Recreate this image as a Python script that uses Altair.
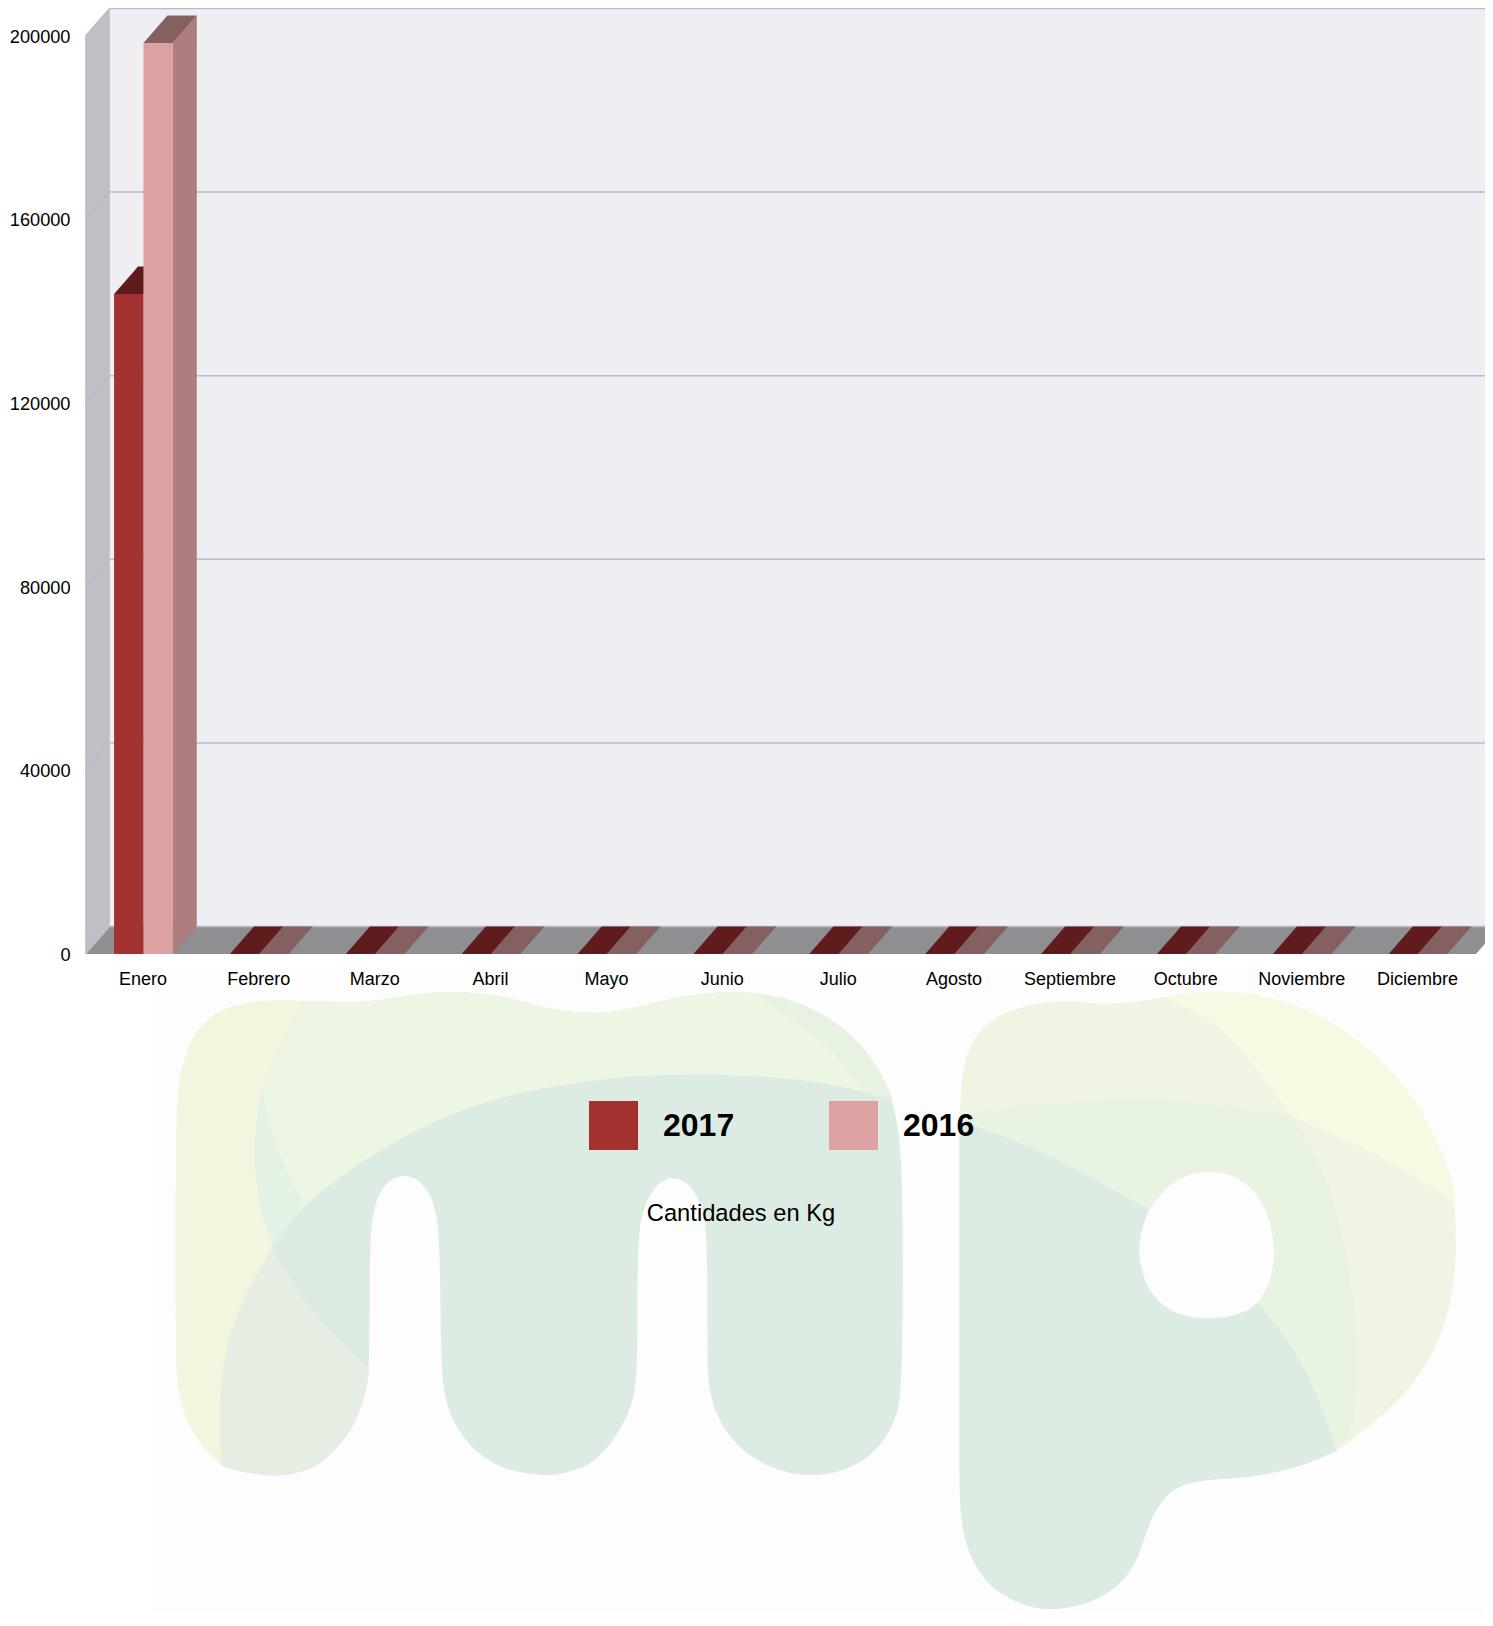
import json
import altair as alt
import pandas as pd

# ---- chart values ----
MESES = ["Enero", "Febrero", "Marzo", "Abril", "Mayo", "Junio", "Julio", "Agosto",
         "Septiembre", "Octubre", "Noviembre", "Diciembre"]
V2017 = [143800, 0, 0, 0, 0, 0, 0, 0, 0, 0, 0, 0]
V2016 = [198500, 0, 0, 0, 0, 0, 0, 0, 0, 0, 0, 0]
TICKS = [0, 40000, 80000, 120000, 160000, 200000]

# ---- page geometry -> data units ----
LEFT, ZERO, TOP, RIGHT = 85.5, 954.0, 9.0, 1485.0
BAND = 115.875
PX_PER_KG = 918.0 / 200000
XMAX = (RIGHT - LEFT) / BAND
YMAX = (ZERO - TOP) / PX_PER_KG
DX = 24.0 / BAND
DY = 27.5 / PX_PER_KG
BAR = 29.35 / BAND
NCAT = 12


def kg(py):
    return (ZERO - py) / PX_PER_KG


def cat(px):
    return (px - LEFT) / BAND


XS = alt.Scale(domain=[0, XMAX], nice=False, zero=False)
YS = alt.Scale(domain=[0, YMAX], nice=False, zero=False)
COL = {"2017": ("#a3312f", "#601c1c", "#6d2423"), "2016": ("#dca2a2", "#846060", "#ae7e7e")}

fronts, tops, sides = [], [], []
for i, m in enumerate(MESES):
    for j, (s, v) in enumerate((("2017", V2017[i]), ("2016", V2016[i]))):
        x0 = i + 0.5 - BAR + j * BAR
        x1 = x0 + BAR
        fronts.append(dict(serie=s, x0=x0, x1=x1, y0=0, y1=v))
        k = f"{s}-{m}"
        tops += [dict(id=k, y=v, x0=x0, x1=x1, fill=COL[s][1]),
                 dict(id=k, y=v + DY, x0=x0 + DX, x1=x1 + DX, fill=COL[s][1])]
        if v > 0:
            sides += [dict(id=k, x=x1, y0=0, y1=v, fill=COL[s][2]),
                      dict(id=k, x=x1 + DX, y0=DY, y1=v + DY, fill=COL[s][2])]


def vface(df, **mk):
    return alt.Chart(pd.DataFrame(df)).mark_area(orient="vertical", **mk).encode(
        x=alt.X("x:Q", scale=XS, axis=None),
        y=alt.Y("y0:Q", scale=YS, axis=None, stack=None),
        y2="y1:Q", detail="id:N", fill=alt.Fill("fill:N", scale=None))


def hface(df, **mk):
    return alt.Chart(pd.DataFrame(df)).mark_area(orient="horizontal", **mk).encode(
        y=alt.Y("y:Q", scale=YS, axis=None),
        x=alt.X("x0:Q", scale=XS, axis=None, stack=None),
        x2="x1:Q", detail="id:N", fill=alt.Fill("fill:N", scale=None))


# ---- room walls ----
top_kg = TICKS[-1]
WALL_LINE = "#b9b9d3"
back = alt.Chart(pd.DataFrame([dict(x0=DX, x1=XMAX, y0=DY, y1=top_kg + DY)])).mark_rect(color="#efeef3").encode(
    x=alt.X("x0:Q", scale=XS, axis=None), x2="x1:Q",
    y=alt.Y("y0:Q", scale=YS, axis=None), y2="y1:Q")
left_wall = vface([dict(id="w", x=0, y0=0, y1=top_kg, fill="#bfbfc4"),
                   dict(id="w", x=DX, y0=DY, y1=top_kg + DY, fill="#bfbfc4")])
floor = hface([dict(id="f", y=0, x0=0, x1=NCAT, fill="#8f8f92"),
               dict(id="f", y=DY, x0=DX, x1=NCAT + DX, fill="#8f8f92")], clip=True)

grid_back = alt.Chart(pd.DataFrame([dict(x0=DX, x1=XMAX, y=t + DY) for t in TICKS])).mark_rule(
    color=WALL_LINE, strokeWidth=1.5).encode(
    x=alt.X("x0:Q", scale=XS, axis=None), x2="x1:Q", y=alt.Y("y:Q", scale=YS, axis=None))
grid_side = alt.Chart(pd.DataFrame(
    [r for t in TICKS for r in (dict(id=t, x=0, y=t), dict(id=t, x=DX, y=t + DY))])).mark_line(
    color=WALL_LINE, strokeWidth=1.2).encode(
    x=alt.X("x:Q", scale=XS, axis=None), y=alt.Y("y:Q", scale=YS, axis=None), detail="id:N")
edges = alt.Chart(pd.DataFrame([dict(x=0, y0=0, y1=top_kg), dict(x=DX, y0=DY, y1=top_kg + DY)])).mark_rule(
    color="#c4c4d6", strokeWidth=1).encode(
    x=alt.X("x:Q", scale=XS, axis=None), y=alt.Y("y0:Q", scale=YS, axis=None), y2="y1:Q")

label_expr = "%s[floor(datum.value)]" % json.dumps(MESES)
bars = alt.Chart(pd.DataFrame(fronts)).mark_rect().encode(
    x=alt.X("x0:Q", scale=XS, axis=alt.Axis(
        values=[i + 0.5 for i in range(NCAT)], labelExpr=label_expr, ticks=False, domain=False, grid=False,
        labelPadding=25.5, labelFontSize=18, labelColor="#000000", labelFont="Liberation Sans",
        labelAngle=0, labelOverlap=False, labelBaseline="middle", labelOffset=-1, zindex=1,
        title="Cantidades en Kg", titleFont="Liberation Sans", titleFontSize=23.7, titleFontWeight="normal",
        titleColor="#000000", titleX=740.5 - LEFT, titleY=1220 - ZERO, titleAlign="center",
        titleBaseline="alphabetic")),
    x2="x1:Q",
    y=alt.Y("y0:Q", scale=YS, axis=alt.Axis(
        values=TICKS, format="d", ticks=False, domain=False, grid=False, title=None, zindex=1,
        labelPadding=15.5, labelFontSize=18.2, labelColor="#000000", labelFont="Liberation Sans",
        labelOverlap=False, labelOffset=1.2)),
    y2="y1:Q",
    color=alt.Color("serie:N",
                    scale=alt.Scale(domain=["2017", "2016"], range=[COL["2017"][0], COL["2016"][0]]),
                    legend=alt.Legend(orient="none", legendX=589 - LEFT, legendY=1101 - TOP,
                                      direction="horizontal", columns=2, title=None, padding=0,
                                      symbolType="square", symbolSize=2401, symbolStrokeWidth=0,
                                      symbolOpacity=1, labelFont="Liberation Sans", labelFontSize=32,
                                      labelFontWeight="bold", labelColor="#000000", labelOffset=25,
                                      columnPadding=94)))

# ---- pale watermark behind the legend (outline) ----
M_OUTER = [(70, 500), (75, 300), (100, 170), (150, 90), (230, 60), (320, 62), (440, 68), (520, 45), (620, 32),
           (720, 50), (800, 85), (880, 100), (950, 90), (1040, 55), (1130, 35), (1220, 38), (1300, 70),
           (1380, 140), (1440, 240), (1475, 350), (1495, 520), (1495, 1200), (1478, 1320), (1435, 1405),
           (1380, 1452), (1315, 1468), (1250, 1452), (1185, 1400), (1140, 1320), (1115, 1220), (1112, 1100),
           (1112, 760), (1100, 660), (1075, 600), (1045, 582), (1015, 600), (990, 660), (975, 760), (975, 1150),
           (965, 1260), (930, 1360), (885, 1432), (840, 1457), (787, 1468), (700, 1442), (640, 1370), (605, 1280),
           (590, 1170), (588, 760), (575, 650), (550, 595), (518, 575), (485, 595), (462, 650), (450, 760),
           (450, 1150), (440, 1240), (410, 1345), (355, 1432), (312, 1458), (265, 1468), (200, 1456), (160, 1438),
           (105, 1350), (75, 1230), (70, 1100)]
M_LIGHT = [(320, 62), (440, 68), (520, 45), (620, 32), (720, 50), (800, 85), (880, 100), (950, 90), (1040, 55),
           (1130, 35), (1220, 38), (1300, 70), (1380, 140), (1440, 240), (1475, 350), (1300, 290), (1000, 272),
           (700, 340), (500, 470), (320, 660), (260, 790), (235, 680), (220, 500), (240, 300)]
M_BAND = [(240, 300), (250, 420), (290, 580), (320, 660), (260, 790), (235, 680), (220, 500)]
M_RIGHT = [(1200, 36), (1300, 70), (1380, 140), (1440, 240), (1475, 350), (1420, 340), (1350, 190)]
M_YELLOW = [(320, 62), (230, 60), (150, 90), (100, 170), (75, 300), (70, 500), (70, 1100), (75, 1230), (105, 1350),
            (160, 1438), (155, 1300), (165, 1100), (200, 950), (260, 790), (235, 680), (220, 500), (240, 300)]
M_GREY = [(260, 790), (200, 950), (165, 1100), (155, 1300), (160, 1438), (200, 1456), (265, 1468), (312, 1458),
          (355, 1432), (410, 1345), (440, 1240), (450, 1150), (380, 1050), (310, 930)]

P_OUTER = [(108, 450), (110, 280), (130, 190), (180, 125), (280, 85), (400, 72), (500, 82), (600, 75), (670, 65),
           (760, 52), (880, 52), (1000, 75), (1120, 120), (1230, 190), (1330, 280), (1400, 380), (1450, 480),
           (1467, 600), (1465, 720), (1440, 840), (1390, 940), (1310, 1030), (1230, 1090), (1140, 1150),
           (1030, 1190), (900, 1213), (780, 1218), (700, 1235), (650, 1280), (620, 1340), (590, 1420), (540, 1475),
           (460, 1515), (350, 1532), (260, 1512), (180, 1465), (130, 1390), (110, 1300), (108, 1200)]
P_YELLOW = [(670, 65), (760, 52), (880, 52), (1000, 75), (1120, 120), (1230, 190), (1330, 280), (1400, 380),
            (1450, 480), (1467, 560), (1350, 490), (1200, 420), (1020, 350), (1000, 330), (900, 210), (800, 120)]
P_MID = [(108, 350), (300, 320), (600, 305), (800, 318), (1020, 350), (1090, 450), (1150, 600), (1190, 800),
         (1197, 1000), (1180, 1110), (1140, 1150), (1090, 1020), (1020, 900), (930, 800), (620, 570), (500, 510),
         (300, 420), (108, 360)]
P_BASE = [(108, 360), (300, 420), (500, 510), (620, 570), (930, 800), (1020, 900), (1090, 1020), (1140, 1150),
          (1030, 1190), (900, 1213), (780, 1218), (700, 1235), (650, 1280), (620, 1340), (590, 1420), (540, 1475),
          (460, 1515), (350, 1532), (260, 1512), (180, 1465), (130, 1390), (110, 1300), (108, 1200)]
P_HOLE = [(790, 480), (860, 490), (920, 530), (955, 590), (972, 670), (960, 740), (925, 800), (860, 828), (765, 835),
          (680, 815), (625, 765), (600, 700), (600, 640), (625, 570), (680, 515), (730, 490)]

PAGE_PALE = "#fcfdfc"


def from_m(pts):
    return [(140 + x / 1.96, 980 + y / 2.958) for x, y in pts]


def from_p(pts):
    return [(920 + x / 2.736, 970 + y / 2.39) for x, y in pts]


def rounded(pts, n=3):
    for _ in range(n):
        out = []
        for a, b in zip(pts, pts[1:] + pts[:1]):
            out += [(0.75 * a[0] + 0.25 * b[0], 0.75 * a[1] + 0.25 * b[1]),
                    (0.25 * a[0] + 0.75 * b[0], 0.25 * a[1] + 0.75 * b[1])]
        pts = out
    return pts


def feature(raw, page, c, sharp=()):
    # corners listed in sharp stay pointed: a point repeated survives the rounding
    pts = []
    for p in raw:
        pts += [p] * (4 if p in sharp else 1)
    ring = [[round(x - LEFT, 1), round(y - TOP, 1)] for x, y in page(rounded(pts))]
    ring.append(ring[0])
    return {"type": "Feature", "properties": {"c": c}, "geometry": {"type": "Polygon", "coordinates": [ring]}}


shapes = [
    feature(M_OUTER, from_m, "#dcece2"),
    feature(M_LIGHT, from_m, "#edf5e3", [(320, 62), (1475, 350), (260, 790)]),
    feature(M_RIGHT, from_m, "#e8f2e2", [(1200, 36), (1475, 350)]),
    feature(M_BAND, from_m, "#e4f2e5", [(240, 300), (320, 660), (260, 790)]),
    feature(M_YELLOW, from_m, "#f3f6df", [(320, 62), (160, 1438), (260, 790)]),
    feature(M_GREY, from_m, "#e6ede2", [(260, 790), (160, 1438), (450, 1150)]),
    feature(P_OUTER, from_p, "#eff5e2"),
    feature(P_YELLOW, from_p, "#f8f9e2", [(670, 65), (1467, 560), (1020, 350)]),
    feature(P_MID, from_p, "#e8f3e2", [(108, 350), (1020, 350), (1140, 1150), (108, 360)]),
    feature(P_BASE, from_p, "#dcece2", [(108, 360), (1140, 1150), (620, 570), (930, 800), (108, 1200)]),
    feature(P_HOLE, from_p, PAGE_PALE),
]
logo = alt.Chart(alt.Data(values=shapes)).mark_geoshape(strokeWidth=0, clip=False).encode(
    fill=alt.Fill("properties.c:N", scale=None)
).project(type="identity", scale=1, translate=[0, 0])

pale = alt.Chart(pd.DataFrame([dict(x0=cat(153), x1=XMAX, y0=kg(968), y1=kg(1612))])).mark_rect(color=PAGE_PALE).encode(
    x=alt.X("x0:Q", scale=XS, axis=None), x2="x1:Q",
    y=alt.Y("y0:Q", scale=YS, axis=None), y2="y1:Q")

chart = alt.layer(
    pale, logo, back, left_wall, floor, grid_back, grid_side, edges,
    vface(sides), hface(tops, clip=True), bars,
).resolve_axis(x="independent", y="independent").properties(
    width=RIGHT - LEFT, height=ZERO - TOP,
    autosize=alt.AutoSizeParams(type="none"),
    padding={"left": LEFT - 8, "top": TOP - 8, "right": 0, "bottom": 658},
    background="#ffffff",
).configure_view(stroke=None)

chart.save("out.html", embed_options={"renderer": "svg", "actions": False})
